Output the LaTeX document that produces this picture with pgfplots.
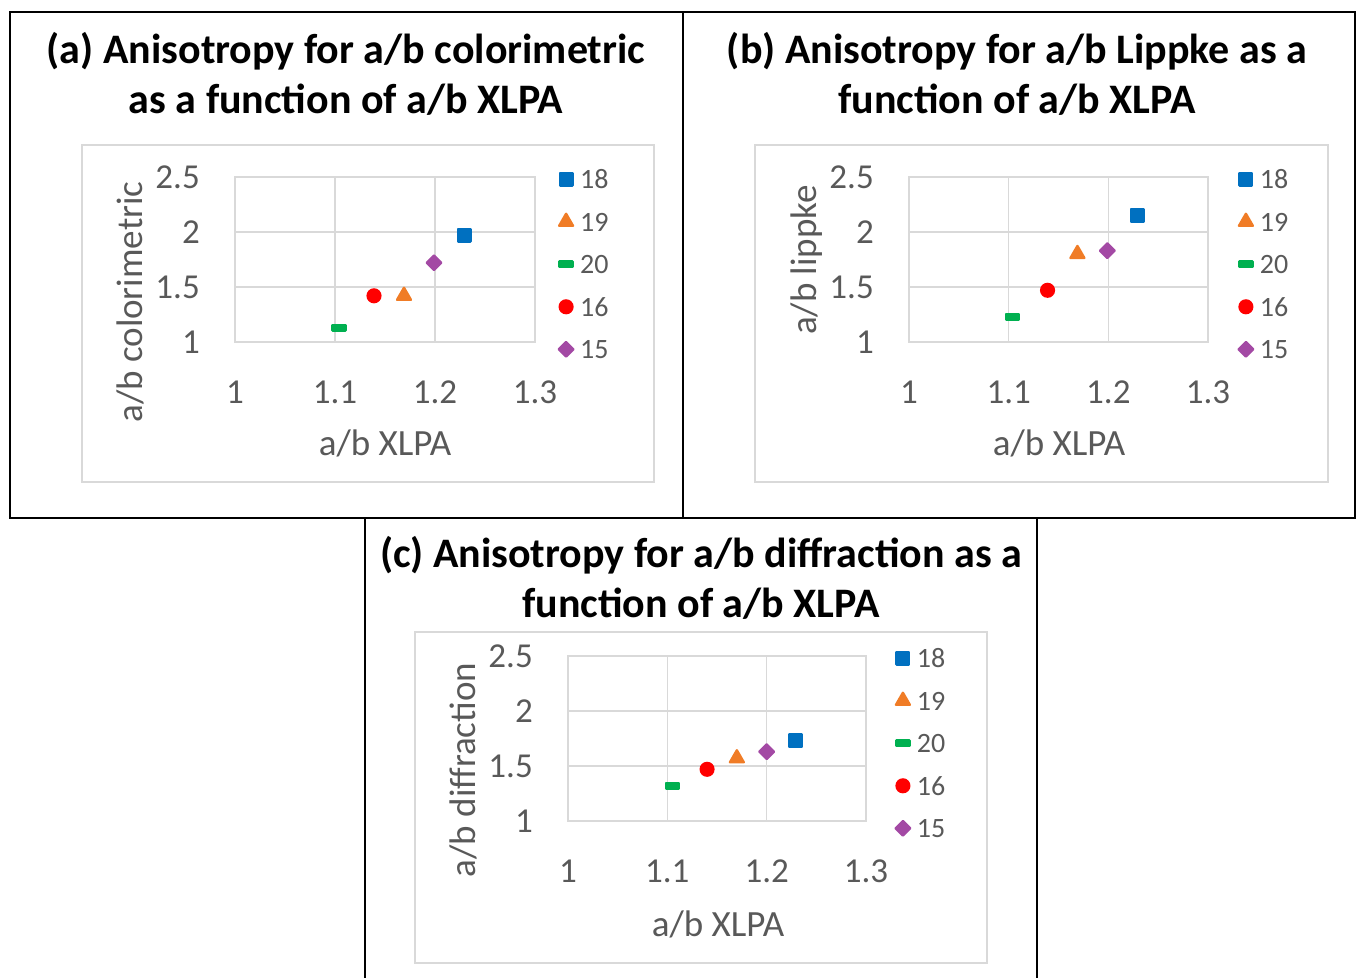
\documentclass[border=0pt]{standalone}
\usepackage{pgfplots}
\pgfplotsset{compat=1.18}
\usepackage{fontspec}
\setmainfont{Carlito}
\definecolor{c18}{HTML}{0070C0}
\definecolor{c19}{HTML}{F07C26}
\definecolor{c20}{HTML}{00B050}
\definecolor{c16}{HTML}{FF0000}
\definecolor{c15}{HTML}{A349A4}
\definecolor{txt}{HTML}{595959}
\definecolor{grd}{HTML}{D9D9D9}

\pgfplotsset{
  lgd/.style={legend image code/.code={\draw[##1] plot coordinates {(0pt,0pt)};}},
  s18/.style={only marks, lgd, mark=square*, mark size=6.3pt, color=c18, mark options={line join=round, line width=2.4pt}},
  s19/.style={only marks, lgd, mark=triangle*, mark size=8pt, color=c19, mark options={line join=round, line width=2.4pt}},
  s20/.style={only marks, lgd, mark=square*, mark size=6.5pt, color=c20, mark options={yscale=0.42, line join=round, line width=2.6pt}},
  s16/.style={only marks, lgd, mark=*, mark size=6.8pt, color=c16, mark options={line width=1.5pt}},
  s15/.style={only marks, lgd, mark=square*, mark size=5.3pt, color=c15, mark options={rotate=45, line join=round, line width=2pt}},
  panel/.style={
    scale only axis, width=#1, height=165pt,
    anchor=south west,
    xmin=1, xmax=1.3, ymin=1, ymax=2.5,
    xtick={1,1.1,1.2,1.3}, ytick={1,1.5,2,2.5},
    grid=major, major grid style={grd, line width=1.2pt},
    axis line style={grd, line width=1.2pt},
    tick style={draw=none},
    /pgf/number format/assume math mode=true,
    ticklabel style={font=\fontsize{35}{40}\selectfont, text=txt, inner sep=0pt},
    xticklabel style={anchor=base, yshift=-61.5pt},
    yticklabel style={anchor=base east, xshift=-35pt, yshift=-11.3pt},
    legend cell align=left,
    legend style={draw=none, fill=none, font=\fontsize{28}{30}\selectfont, text=txt,
      nodes={text height=19pt, text depth=0pt, inner ysep=0pt, inner xsep=6.5pt},
      row sep=23.5pt, anchor=north west},
  },
}

\begin{document}
\begin{tikzpicture}[x=1pt,y=1pt]
\useasboundingbox (0,0) rectangle (1357,977);
% outer frames
\draw[line width=2pt] (10,965) rectangle (683,459);
\draw[line width=2pt] (683,965) rectangle (1355,459);
\draw[line width=2pt] (365,-5) -- (365,459) -- (1037,459) -- (1037,-5);
% inner chart areas
\draw[grd, line width=1.2pt] (82,832) rectangle (654,495);
\draw[grd, line width=1.2pt] (755,832) rectangle (1328,495);
\draw[grd, line width=1.2pt] (415,345) rectangle (987,14);

% ---------- (a) ----------
\begin{axis}[panel=300pt, at={(235pt,635pt)},
  legend style={at={(axis description cs:1.068,1.057)}}]
\addplot[s18] coordinates {(1.229,1.97)}; \addlegendentry{18}
\addplot[s19] coordinates {(1.169,1.42)}; \addlegendentry{19}
\addplot[s20] coordinates {(1.104,1.13)}; \addlegendentry{20}
\addplot[s16] coordinates {(1.139,1.42)}; \addlegendentry{16}
\addplot[s15] coordinates {(1.199,1.72)}; \addlegendentry{15}
\end{axis}

% ---------- (b) ----------
\begin{axis}[panel=299pt, at={(909pt,635pt)},
  legend style={at={(axis description cs:1.091,1.057)}}]
\addplot[s18] coordinates {(1.229,2.15)}; \addlegendentry{18}
\addplot[s19] coordinates {(1.169,1.80)}; \addlegendentry{19}
\addplot[s20] coordinates {(1.104,1.23)}; \addlegendentry{20}
\addplot[s16] coordinates {(1.139,1.47)}; \addlegendentry{16}
\addplot[s15] coordinates {(1.199,1.83)}; \addlegendentry{15}
\end{axis}

% ---------- (c) ----------
\begin{axis}[panel=298pt, at={(568pt,156pt)},
  legend style={at={(axis description cs:1.088,1.057)}}]
\addplot[s18] coordinates {(1.229,1.73)}; \addlegendentry{18}
\addplot[s19] coordinates {(1.170,1.57)}; \addlegendentry{19}
\addplot[s20] coordinates {(1.105,1.32)}; \addlegendentry{20}
\addplot[s16] coordinates {(1.140,1.47)}; \addlegendentry{16}
\addplot[s15] coordinates {(1.200,1.63)}; \addlegendentry{15}
\end{axis}

% titles
\begin{scope}[every node/.style={font=\fontsize{42}{48}\selectfont\bfseries, anchor=base}]
\node at (346,913) {(a) Anisotropy for a/b colorimetric};
\node at (346,863) {as a function of a/b XLPA};
\node at (1017,913) {(b) Anisotropy for a/b Lippke as a};
\node at (1017,863) {function of a/b XLPA};
\node at (701,409) {(c) Anisotropy for a/b diffraction as a};
\node at (701,359) {function of a/b XLPA};
\end{scope}
% axis labels
\begin{scope}[every node/.style={font=\fontsize{37}{42}\selectfont, text=txt, inner sep=0pt}]
\node[anchor=base] at (385,521) {a/b XLPA};
\node[anchor=base] at (1059,521) {a/b XLPA};
\node[anchor=base] at (718,41) {a/b XLPA};
\node[anchor=base, rotate=90] at (142,675) {a/b colorimetric};
\node[anchor=base, rotate=90] at (816,717) {a/b lippke};
\node[anchor=base, rotate=90] at (475,207) {a/b diffraction};
\end{scope}
\end{tikzpicture}
\end{document}
